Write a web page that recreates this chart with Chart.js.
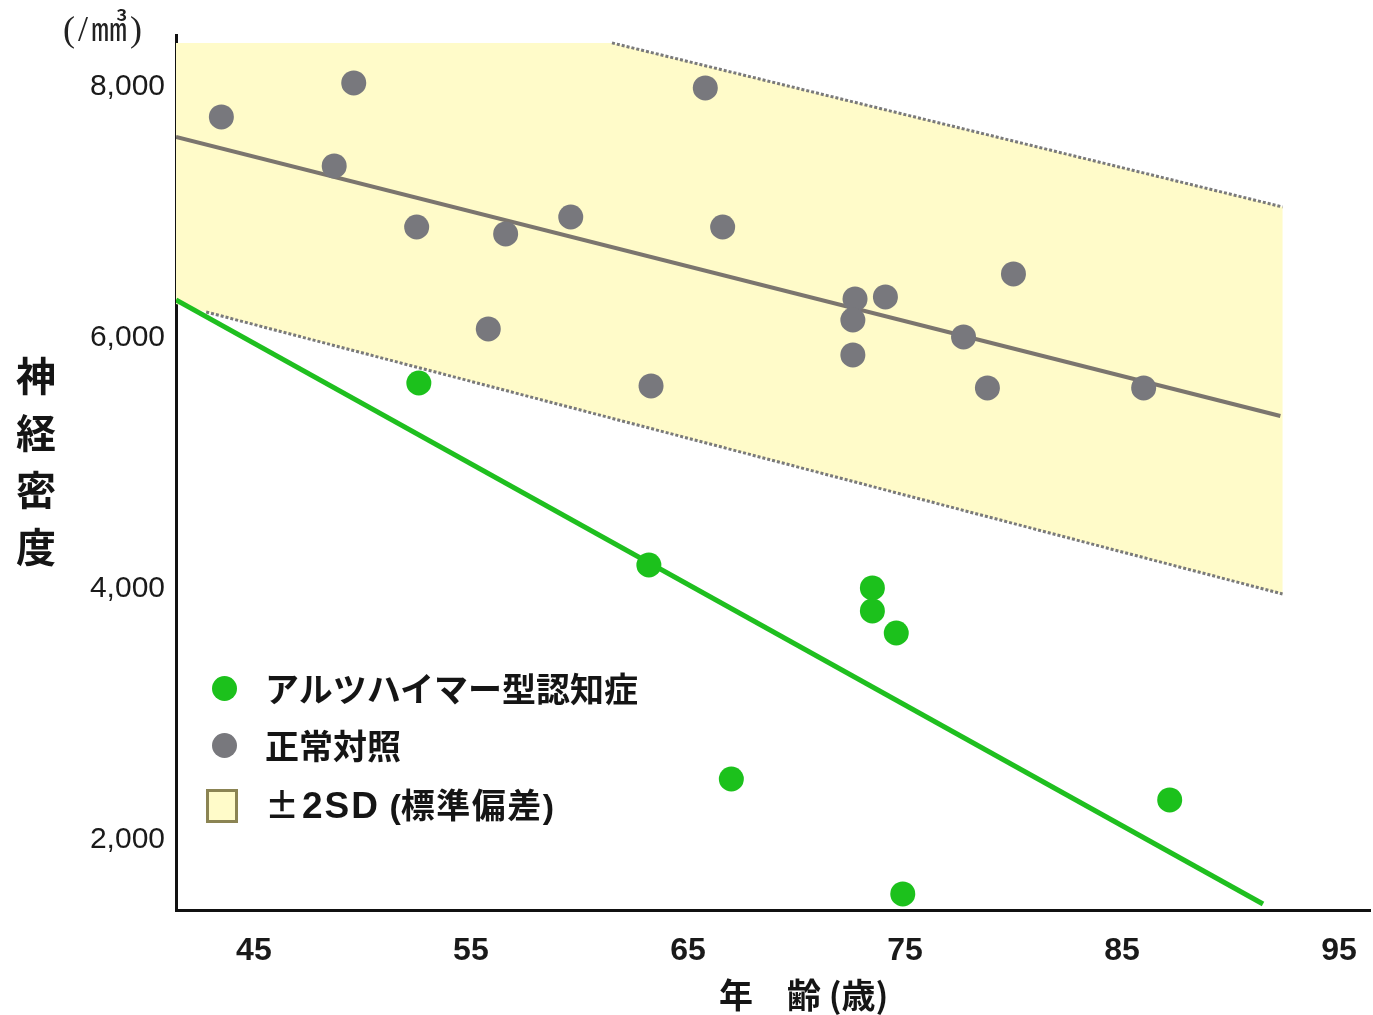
<!DOCTYPE html>
<html lang="ja">
<head>
<meta charset="utf-8">
<script src="https://cdn.jsdelivr.net/npm/chart.js@4.4.1/dist/chart.umd.min.js"></script>
<style>
  html, body { margin: 0; padding: 0; background: #fff; }
  #wrap { position: relative; width: 1373px; height: 1015px; overflow: hidden; }
  #chart { position: absolute; left: 0; top: 0; }
  .txt { position: absolute; color: #151515; font-family: "Noto Sans CJK JP", "Noto Sans", sans-serif; font-weight: 700; white-space: nowrap; }
  #unit { left: 63px; top: 9px; font-family: "Liberation Serif", "Noto Sans CJK JP", serif; font-weight: 400; font-size: 36px; line-height: 40px; letter-spacing: 3px; color: #222; }
  #ytitle { left: 15px; top: 346px; width: 42px; font-size: 40px; line-height: 57px; text-align: center; }
  #xtitle { left: 719px; top: 974px; font-size: 34px; line-height: 40px; }
  .leg { position: absolute; left: 265px; font-size: 34px; line-height: 40px; }
  .lat { font-family: "Liberation Sans", sans-serif; font-weight: 700; }
  .dot { position: absolute; width: 25px; height: 25px; border-radius: 50%; }
  .sq { position: absolute; width: 26px; height: 28px; background: #fffbc9; border: 3px solid #8b8453; }
</style>
</head>
<body>
<div id="wrap">
  <canvas id="chart" width="1373" height="1015"></canvas>
  <div id="unit" class="txt">(/㎣)</div>
  <div id="ytitle" class="txt">神<br>経<br>密<br>度</div>
  <div id="xtitle" class="txt">年　齢 (歳)</div>
  <div class="dot" style="left:212px; top:676px; background:#1cc11c;"></div>
  <div class="txt leg" style="top:668px;">アルツハイマー型認知症</div>
  <div class="dot" style="left:212px; top:733px; background:#78787d;"></div>
  <div class="txt leg" style="top:725px;">正常対照</div>
  <div class="sq" style="left:206px; top:789px;"></div>
  <div class="txt leg" style="top:784px;">±<span class="lat" style="font-size:37px; letter-spacing:2px; margin-left:3px;">2SD</span><span class="lat"> (</span><span style="letter-spacing:1.5px;">標準偏差</span><span class="lat">)</span></div>
</div>
<script>
// ---- data ----
const xTicks = [45, 55, 65, 75, 85, 95];
const yTicks = [2000, 4000, 6000, 8000];

const normalAge     = [43.5, 49.6, 48.7, 52.5, 56.6, 59.6, 55.8, 63.3, 65.8, 66.6, 72.7, 72.6, 72.6, 74.1, 77.7, 78.8, 80.0, 86.0];
const normalDensity = [7761, 8032, 7371, 6884, 6829, 6964, 6072, 5618, 7992, 6884, 6311, 6143, 5865, 6327, 6008, 5602, 6510, 5602];

const adAge     = [52.6, 63.2, 73.5, 73.5, 74.6, 67.0, 87.2, 74.9];
const adDensity = [5641, 4191, 4008, 3825, 3649, 2486, 2319, 1570];

const normalFitAge     = [41.41, 92.3];
const normalFitDensity = [7602, 5378];
const adFitAge     = [41.41, 91.5];
const adFitDensity = [6303, 1490];

const sdUpperAge     = [61.5, 92.4];
const sdUpperDensity = [8351, 7044];
const sdLowerAge     = [42.8, 92.4];
const sdLowerDensity = [6207, 3960];

const sdBandAge     = [41.41, 61.5, 92.4, 92.4, 41.41];
const sdBandDensity = [8351, 8351, 7044, 3960, 6271];

const xMin = 41.41, xMax = 96.43;
const yMin = 1442, yMax = 8414;

const pts = (xs, ys) => xs.map((x, i) => ({ x: x, y: ys[i] }));

new Chart(document.getElementById('chart'), {
  type: 'scatter',
  data: {
    datasets: [
      { label: '±2SD', data: pts(sdBandAge, sdBandDensity), showLine: true, fill: 'shape',
        backgroundColor: '#fffbc9', borderWidth: 0, borderColor: 'rgba(0,0,0,0)', pointRadius: 0, order: 10 },
      { label: 'upper', data: pts(sdUpperAge, sdUpperDensity), showLine: true, fill: false,
        borderColor: '#7a7a7a', borderWidth: 3, borderDash: [3, 2], pointRadius: 0, order: 8 },
      { label: 'lower', data: pts(sdLowerAge, sdLowerDensity), showLine: true, fill: false,
        borderColor: '#7a7a7a', borderWidth: 3, borderDash: [3, 2], pointRadius: 0, order: 8 },
      { label: 'normal fit', data: pts(normalFitAge, normalFitDensity), showLine: true, fill: false,
        borderColor: '#7b756e', borderWidth: 4, pointRadius: 0, order: 5 },
      { label: 'AD fit', data: pts(adFitAge, adFitDensity), showLine: true, fill: false,
        borderColor: '#1fbf1f', borderWidth: 5, pointRadius: 0, order: 5 },
      { label: '正常対照', data: pts(normalAge, normalDensity), showLine: false,
        backgroundColor: '#78787d', borderWidth: 0, pointRadius: 12.5, order: 2 },
      { label: 'アルツハイマー型認知症', data: pts(adAge, adDensity), showLine: false,
        backgroundColor: '#1cc11c', borderWidth: 0, pointRadius: 12.5, order: 1 }
    ]
  },
  options: {
    responsive: false,
    animation: false,
    events: [],
    layout: { autoPadding: false, padding: { top: 35, right: 3, left: 0, bottom: 0 } },
    plugins: { legend: { display: false }, tooltip: { enabled: false } },
    scales: {
      x: {
        type: 'linear', min: xMin, max: xMax,
        grid: { display: false, drawTicks: false },
        border: { display: true, color: '#111', width: 3 },
        afterBuildTicks: (s) => { s.ticks = xTicks.map(v => ({ value: v })); },
        afterFit: (s) => { s.height = 105; s.paddingLeft = 0; s.paddingRight = 0; },
        ticks: { padding: 22, color: '#1a1a1a', font: { family: 'Liberation Sans', size: 32, weight: 'bold' },
                 callback: (v) => String(v) }
      },
      y: {
        type: 'linear', min: yMin, max: yMax,
        grid: { display: false, drawTicks: false },
        border: { display: true, color: '#111', width: 3 },
        afterBuildTicks: (s) => { s.ticks = yTicks.map(v => ({ value: v })); },
        afterFit: (s) => { s.width = 176; s.paddingTop = 0; s.paddingBottom = 0; },
        ticks: { padding: 11, color: '#1a1a1a', font: { family: 'Liberation Sans', size: 30 },
                 callback: (v) => Number(v).toLocaleString('en-US') }
      }
    }
  }
});
</script>
</body>
</html>
